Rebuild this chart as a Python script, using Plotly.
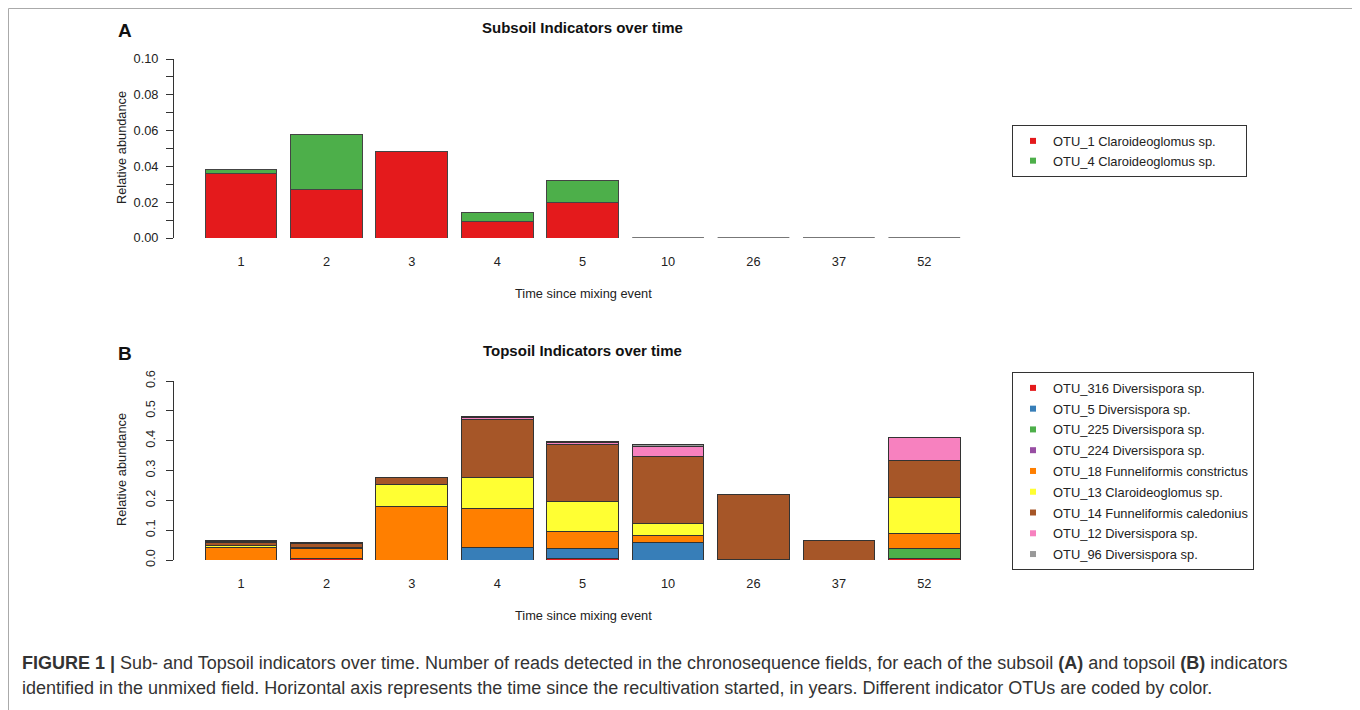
import plotly.graph_objects as go

# ---------------- data ----------------
times = ["1", "2", "3", "4", "5", "10", "26", "37", "52"]

# Panel A: subsoil indicators
sub_names = ["OTU_1 Claroideoglomus sp.", "OTU_4 Claroideoglomus sp."]
sub_otu1 = [0.036, 0.027, 0.0485, 0.0095, 0.0196, 0, 0, 0, 0]
sub_otu4 = [0.0025, 0.031, 0, 0.0045, 0.0128, 0, 0, 0, 0]
sub_colors = ["#E41A1C", "#4DAF4A"]

# Panel B: topsoil indicators
top_names = [
    "OTU_316 Diversispora sp.",
    "OTU_5 Diversispora sp.",
    "OTU_225 Diversispora sp.",
    "OTU_224 Diversispora sp.",
    "OTU_18 Funneliformis constrictus",
    "OTU_13 Claroideoglomus sp.",
    "OTU_14 Funneliformis caledonius",
    "OTU_12 Diversispora sp.",
    "OTU_96 Diversispora sp.",
]
otu316 = [0, 0.006, 0, 0, 0.005, 0, 0.002, 0, 0.006]
otu5 = [0, 0, 0, 0.041, 0.032, 0.058, 0, 0, 0]
otu225 = [0, 0, 0, 0, 0, 0, 0, 0, 0.031]
otu224 = [0, 0, 0, 0, 0.002, 0, 0, 0, 0]
otu18 = [0.043, 0.032, 0.18, 0.13, 0.055, 0.025, 0, 0, 0.051]
otu13 = [0.004, 0.005, 0.074, 0.107, 0.102, 0.039, 0, 0, 0.121]
otu14 = [0.010, 0.012, 0.022, 0.192, 0.192, 0.224, 0.216, 0.066, 0.125]
otu12 = [0.006, 0, 0, 0.008, 0.006, 0.036, 0, 0, 0.078]
otu96 = [0.003, 0.002, 0, 0.003, 0.003, 0.006, 0, 0, 0]
top_series = [otu316, otu5, otu225, otu224, otu18, otu13, otu14, otu12, otu96]
top_colors = ["#E41A1C", "#377EB8", "#4DAF4A", "#984EA3", "#FF7F00",
              "#FFFF33", "#A65628", "#F781BF", "#999999"]

sub_ticks = [0, 0.02, 0.04, 0.06, 0.08, 0.10]
sub_ticktext = ["0.00", "0.02", "0.04", "0.06", "0.08", "0.10"]
sub_minor = [0.01, 0.03, 0.05, 0.07, 0.09]
top_ticks = [0, 0.1, 0.2, 0.3, 0.4, 0.5, 0.6]
top_ticktext = ["0.0", "0.1", "0.2", "0.3", "0.4", "0.5", "0.6"]

caption1 = ("<b>FIGURE 1 |</b> Sub- and Topsoil indicators over time. Number of reads detected in the "
            "chronosequence fields, for each of the subsoil <b>(A)</b> and topsoil <b>(B)</b> indicators")
caption2 = ("identified in the unmixed field. Horizontal axis represents the time since the recultivation "
            "started, in years. Different indicator OTUs are coded by color.")

# ---------------- figure ----------------
OFF = 8  # page body margin
W, H = 1360 - OFF, 710 - OFF
FONT = "Liberation Sans, Arial, Helvetica, sans-serif"
pos = list(range(len(times)))
BAR_W = 0.84


def px_x(p):
    return (p - OFF) / W


def px_y(p):
    return 1 - (p - OFF) / H


fig = go.Figure()

# Panel A bars
for name, vals, col in zip(sub_names, [sub_otu1, sub_otu4], sub_colors):
    fig.add_trace(go.Bar(x=pos, y=vals, width=BAR_W, cliponaxis=False,
                         marker=dict(color=col, line=dict(color="#444444", width=1)),
                         xaxis="x", yaxis="y", showlegend=False, name=name))
    fig.add_trace(go.Scatter(x=[None], y=[None], mode="markers", name=name + "&nbsp;" * 7,
                             marker=dict(symbol="square", size=6, color=col),
                             xaxis="x", yaxis="y", legend="legend", legendgroup=name))

# empty (zero-total) bars are drawn by R as a flat outline
zx, zy = [], []
for i, (a, b) in enumerate(zip(sub_otu1, sub_otu4)):
    if a + b == 0:
        zx += [pos[i] - BAR_W / 2, pos[i] + BAR_W / 2, None]
        zy += [0, 0, None]
fig.add_trace(go.Scatter(x=zx, y=zy, mode="lines", line=dict(color="#777777", width=2),
                         cliponaxis=False, showlegend=False, hoverinfo="skip",
                         xaxis="x", yaxis="y"))

# Panel B bars
for name, vals, col in zip(top_names, top_series, top_colors):
    fig.add_trace(go.Bar(x=pos, y=vals, width=BAR_W, cliponaxis=False,
                         marker=dict(color=col, line=dict(color="#333333", width=1)),
                         xaxis="x2", yaxis="y2", showlegend=False, name=name))
    fig.add_trace(go.Scatter(x=[None], y=[None], mode="markers", name=name,
                             marker=dict(symbol="square", size=6, color=col),
                             xaxis="x2", yaxis="y2", legend="legend2", legendgroup=name))

xdom = [px_x(174), px_x(967)]
xrange = [-0.785, 8.5]
common_x = dict(domain=xdom, range=xrange, tickmode="array", tickvals=pos, ticktext=times,
                showline=False, showgrid=False, zeroline=False, ticks="", ticklabelstandoff=14,
                tickfont=dict(size=12.8, color="#222"), automargin=False)
common_y = dict(showline=True, linecolor="#333", linewidth=1, ticks="outside", ticklen=7,
                tickcolor="#333", showgrid=False, zeroline=False,
                tickfont=dict(size=12.8, color="#222"), automargin=False, tickmode="array")

fig.update_layout(
    width=W, height=H, margin=dict(l=0, r=0, t=0, b=0, autoexpand=False),
    paper_bgcolor="white", plot_bgcolor="white",
    font=dict(family=FONT, color="#222"),
    barmode="stack",
    xaxis=dict(**common_x, anchor="y"),
    yaxis=dict(**common_y, anchor="x", domain=[px_y(238), px_y(59)], range=[0, 0.1],
               tickvals=sub_ticks, ticktext=sub_ticktext, ticklabelstandoff=5,
               minor=dict(tickmode="array", tickvals=sub_minor,
                          ticks="outside", ticklen=7, tickcolor="#333")),
    xaxis2=dict(**common_x, anchor="y2"),
    yaxis2=dict(**common_y, anchor="x2", domain=[px_y(560), px_y(381)], range=[0, 0.6],
                tickvals=top_ticks, ticktext=top_ticktext, tickangle=-90, ticklabelstandoff=6),
    legend=dict(x=px_x(1012), y=px_y(125), xanchor="left", yanchor="top", bgcolor="white",
                bordercolor="#333", borderwidth=1, font=dict(size=12.9, color="#222"),
                itemwidth=30, tracegroupgap=0),
    legend2=dict(x=px_x(1012), y=px_y(372), xanchor="left", yanchor="top", bgcolor="white",
                 bordercolor="#333", borderwidth=1, font=dict(size=12.9, color="#222"),
                 itemwidth=30, tracegroupgap=1),
    shapes=[dict(type="rect", xref="paper", yref="paper", x0=px_x(8.5), x1=px_x(1353),
                 y0=px_y(720), y1=px_y(8.5), line=dict(color="#aaaaaa", width=1))],
)


def note(text, x, y, size, color="#111", angle=0, xanchor="center"):
    return dict(text=text, x=px_x(x), y=px_y(y), xref="paper", yref="paper", showarrow=False,
                font=dict(size=size, color=color), xanchor=xanchor, yanchor="middle",
                textangle=angle)


ann = [
    note("<b>Subsoil Indicators over time</b>", 582, 27, 15),
    note("<b>Topsoil Indicators over time</b>", 582, 350, 15),
    note("<b>A</b>", 125, 30, 19),
    note("<b>B</b>", 125, 353, 19),
    note("Relative abundance", 121, 148, 12.8, "#222", -90),
    note("Relative abundance", 121, 470, 12.8, "#222", -90),
    note("Time since mixing event", 583, 293, 12.8, "#222"),
    note("Time since mixing event", 583, 615, 12.8, "#222"),
    note(caption1, 20, 663, 18, "#333", 0, "left"),
    note(caption2, 20, 688, 18, "#333", 0, "left"),
]
fig.update_layout(annotations=ann)

fig.write_html("out.html")
